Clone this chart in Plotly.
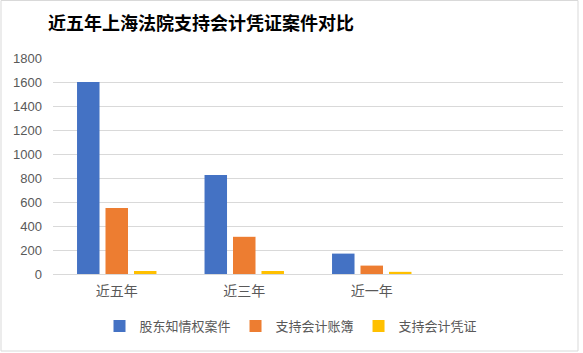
import plotly.graph_objects as go

categories = ["近五年", "近三年", "近一年"]
series_names = ["股东知情权案件", "支持会计账簿", "支持会计凭证"]
shareholder_cases = [1600, 825, 170]
ledger_support = [550, 310, 70]
voucher_support = [25, 25, 18]
colors = ["#4472C4", "#ED7D31", "#FFC000"]
y_ticks = [0, 200, 400, 600, 800, 1000, 1200, 1400, 1600, 1800]

cjk = "Noto Sans CJK SC"
fig = go.Figure()
for name, vals, col in zip(series_names, [shareholder_cases, ledger_support, voucher_support], colors):
    fig.add_trace(go.Bar(x=categories, y=vals, name=name, marker=dict(color=col, line=dict(width=0))))

L, R, T, B = 53, 20, 58, 79
W, H = 583, 353
pw, ph = W - L - R, H - T - B

def px(x):
    return (x - L) / pw

def py(y):
    return (H - B - y) / ph

fig.update_layout(
    width=W, height=H,
    margin=dict(l=L, r=R, t=T, b=B),
    paper_bgcolor="white", plot_bgcolor="white",
    barmode="group", bargap=0.33, bargroupgap=0.21,
    title=dict(text="<b>近五年上海法院支持会计凭证案件对比</b>", x=48 / W, xanchor="left",
               y=1 - 24 / H, yanchor="middle", font=dict(family=cjk, size=18, color="#000000")),
    legend=dict(orientation="h", x=px(291), xanchor="center", y=py(326), yanchor="middle",
                font=dict(family=cjk, size=13, color="#595959"), itemwidth=30, tracegroupgap=0),
    xaxis=dict(range=[-0.5, 3.5], showgrid=False, showline=False, ticks="",
               tickfont=dict(family=cjk, size=14, color="#595959"), ticklabelstandoff=7, fixedrange=True),
    yaxis=dict(range=[0, 1800], tickvals=y_ticks, showgrid=True, gridcolor="#d9d9d9", gridwidth=1,
               zeroline=True, zerolinecolor="#d9d9d9", zerolinewidth=1, showline=False,
               tickfont=dict(family="Liberation Sans, Arial", size=13, color="#595959"), ticklabelstandoff=10),
    shapes=[dict(type="rect", xref="paper", yref="paper", x0=px(1), x1=px(578), y0=py(351), y1=py(0.5),
                 line=dict(color="#d9d9d9", width=1), fillcolor="rgba(0,0,0,0)", layer="below")],
)
fig.write_html("out.html")
